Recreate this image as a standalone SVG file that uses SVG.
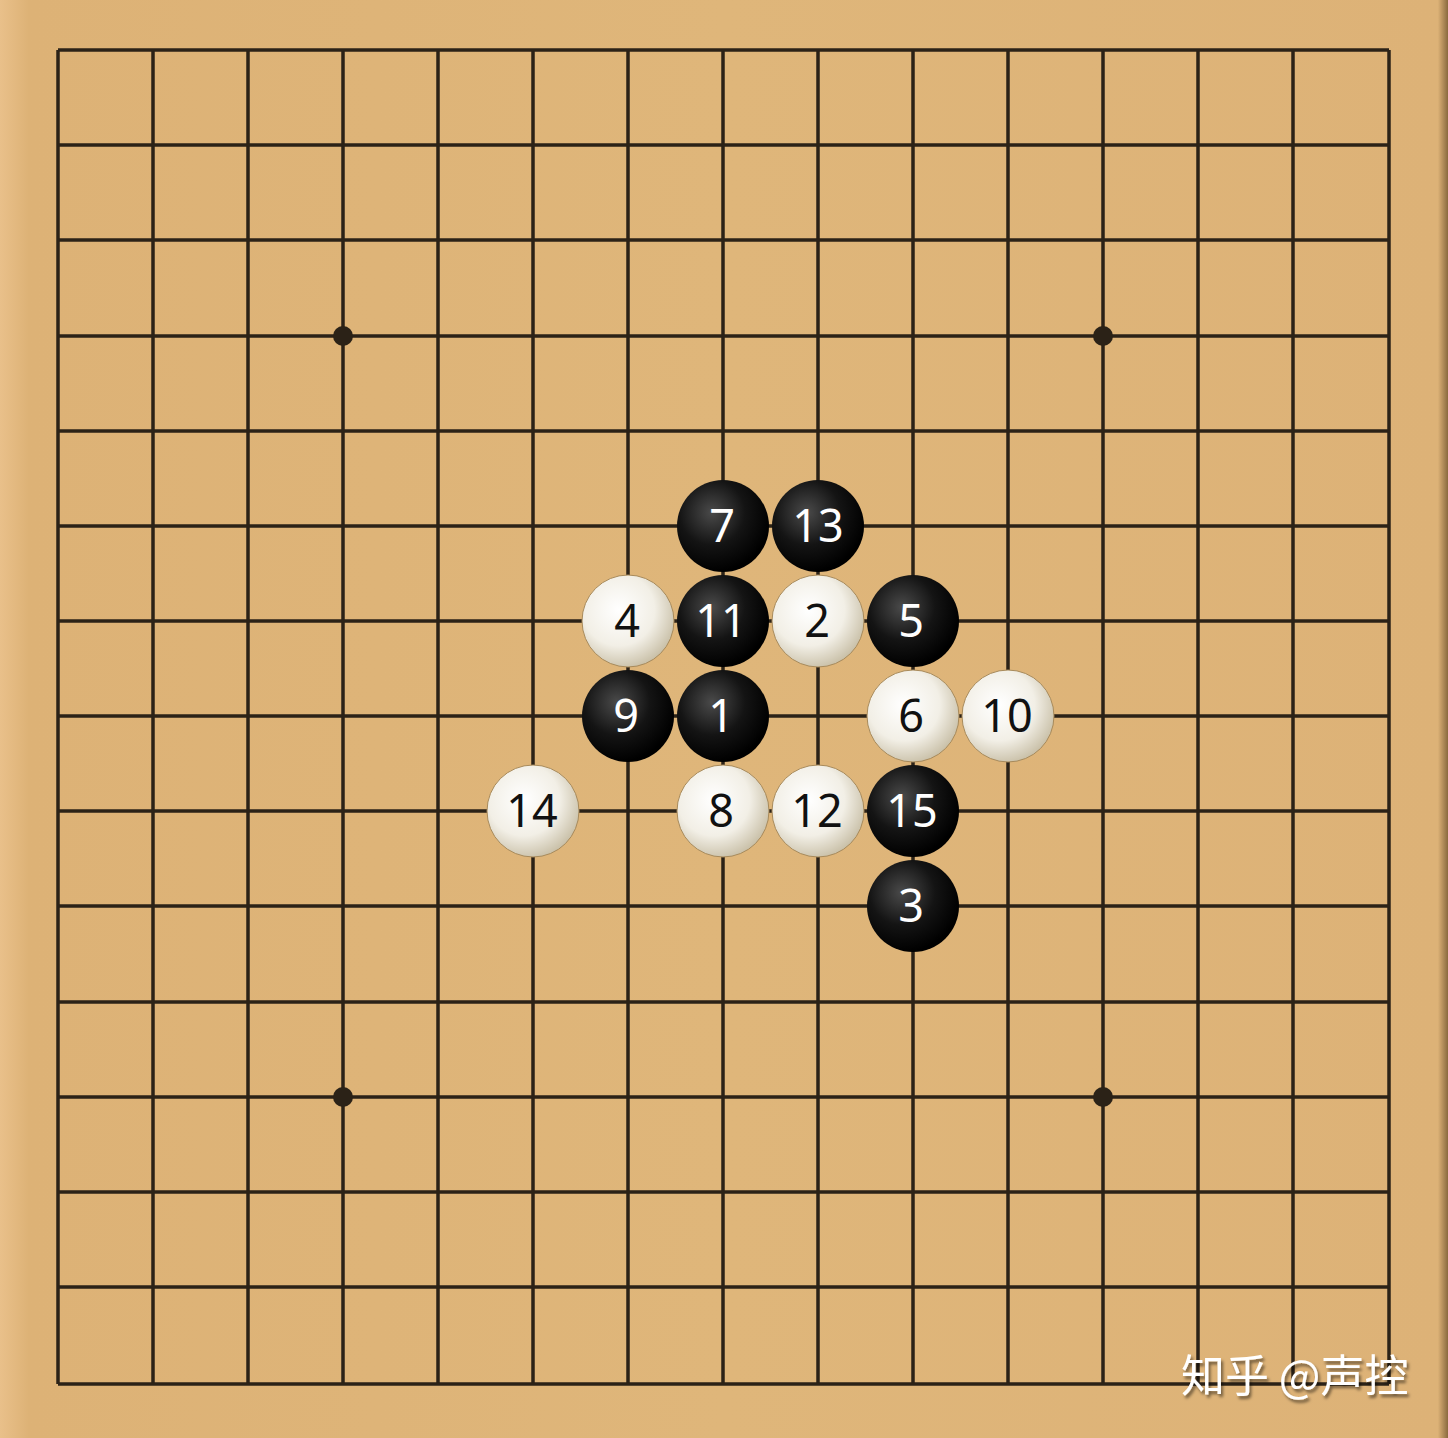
<svg xmlns="http://www.w3.org/2000/svg" width="1448" height="1438" viewBox="0 0 1448 1438">
<defs>
<linearGradient id="wood" x1="0" y1="0" x2="1" y2="0">
<stop offset="0" stop-color="#e9c08a"/>
<stop offset="0.02" stop-color="#ddb276"/>
<stop offset="0.5" stop-color="#dfb67a"/>
<stop offset="0.993" stop-color="#ddb277"/>
<stop offset="1" stop-color="#8a6a3e"/>
</linearGradient>
<radialGradient id="blk" cx="0.38" cy="0.35" r="0.65">
<stop offset="0" stop-color="#4a4a4a"/>
<stop offset="0.55" stop-color="#141414"/>
<stop offset="1" stop-color="#000"/>
</radialGradient>
<radialGradient id="wht" cx="0.4" cy="0.38" r="0.65">
<stop offset="0" stop-color="#ffffff"/>
<stop offset="0.6" stop-color="#f2efe6"/>
<stop offset="1" stop-color="#c9c0a8"/>
</radialGradient>
<filter id="sh" x="-10%" y="-10%" width="130%" height="130%">
<feDropShadow dx="2" dy="3" stdDeviation="1.5" flood-color="#000" flood-opacity="0.5"/>
</filter>
</defs>
<style>
.grid line{stroke:#2b2217;stroke-width:3.5}
.star{fill:#2b2217}
.b{fill:url(#blk)}
.w{fill:url(#wht);stroke:#a88a5a;stroke-width:1}
.num{font-family:"Noto Sans","DejaVu Sans",sans-serif;font-size:45px;text-anchor:middle}
.bn{fill:#ffffff}
.wn{fill:#111111}
.wm{font-family:"Noto Sans CJK SC","Noto Sans",sans-serif;font-size:44px;fill:#ffffff}
</style>
<rect x="0" y="0" width="1448" height="1438" fill="url(#wood)"/>
<g id="connectors" class="grid">
<line x1="58" y1="50" x2="58" y2="1384"/>
<line x1="153" y1="50" x2="153" y2="1384"/>
<line x1="248" y1="50" x2="248" y2="1384"/>
<line x1="343" y1="50" x2="343" y2="1384"/>
<line x1="438" y1="50" x2="438" y2="1384"/>
<line x1="533" y1="50" x2="533" y2="1384"/>
<line x1="628" y1="50" x2="628" y2="1384"/>
<line x1="723" y1="50" x2="723" y2="1384"/>
<line x1="818" y1="50" x2="818" y2="1384"/>
<line x1="913" y1="50" x2="913" y2="1384"/>
<line x1="1008" y1="50" x2="1008" y2="1384"/>
<line x1="1103" y1="50" x2="1103" y2="1384"/>
<line x1="1198" y1="50" x2="1198" y2="1384"/>
<line x1="1293" y1="50" x2="1293" y2="1384"/>
<line x1="1389" y1="50" x2="1389" y2="1384"/>
<line x1="58" y1="50" x2="1389" y2="50"/>
<line x1="58" y1="145" x2="1389" y2="145"/>
<line x1="58" y1="240" x2="1389" y2="240"/>
<line x1="58" y1="336" x2="1389" y2="336"/>
<line x1="58" y1="431" x2="1389" y2="431"/>
<line x1="58" y1="526" x2="1389" y2="526"/>
<line x1="58" y1="621" x2="1389" y2="621"/>
<line x1="58" y1="716" x2="1389" y2="716"/>
<line x1="58" y1="811" x2="1389" y2="811"/>
<line x1="58" y1="906" x2="1389" y2="906"/>
<line x1="58" y1="1002" x2="1389" y2="1002"/>
<line x1="58" y1="1097" x2="1389" y2="1097"/>
<line x1="58" y1="1192" x2="1389" y2="1192"/>
<line x1="58" y1="1287" x2="1389" y2="1287"/>
<line x1="58" y1="1384" x2="1389" y2="1384"/>
</g>
<g id="stars">
<circle class="star" cx="343" cy="336" r="10"/>
<circle class="star" cx="1103" cy="336" r="10"/>
<circle class="star" cx="343" cy="1097" r="10"/>
<circle class="star" cx="1103" cy="1097" r="10"/>
</g>
<g id="s7"><circle class="b" cx="723" cy="526" r="46"/><text class="num bn" x="722" y="542">7</text></g>
<g id="s13"><circle class="b" cx="818" cy="526" r="46"/><text class="num bn" x="818" y="542">13</text></g>
<g id="s4"><circle class="w" cx="628" cy="621" r="46"/><text class="num wn" x="627" y="637">4</text></g>
<g id="s11"><circle class="b" cx="723" cy="621" r="46"/><text class="num bn" x="721" y="637">11</text></g>
<g id="s2"><circle class="w" cx="818" cy="621" r="46"/><text class="num wn" x="817" y="637">2</text></g>
<g id="s5"><circle class="b" cx="913" cy="621" r="46"/><text class="num bn" x="911" y="637">5</text></g>
<g id="s9"><circle class="b" cx="628" cy="716" r="46"/><text class="num bn" x="626" y="732">9</text></g>
<g id="s1"><circle class="b" cx="723" cy="716" r="46"/><text class="num bn" x="721" y="732">1</text></g>
<g id="s6"><circle class="w" cx="913" cy="716" r="46"/><text class="num wn" x="911" y="732">6</text></g>
<g id="s10"><circle class="w" cx="1008" cy="716" r="46"/><text class="num wn" x="1007" y="732">10</text></g>
<g id="s14"><circle class="w" cx="533" cy="811" r="46"/><text class="num wn" x="532" y="827">14</text></g>
<g id="s8"><circle class="w" cx="723" cy="811" r="46"/><text class="num wn" x="721" y="827">8</text></g>
<g id="s12"><circle class="w" cx="818" cy="811" r="46"/><text class="num wn" x="817" y="827">12</text></g>
<g id="s15"><circle class="b" cx="913" cy="811" r="46"/><text class="num bn" x="912" y="827">15</text></g>
<g id="s3"><circle class="b" cx="913" cy="906" r="46"/><text class="num bn" x="911" y="922">3</text></g>
<g id="watermark"><text class="wm" x="1181" y="1392" filter="url(#sh)">知乎 @声控</text></g>
</svg>
